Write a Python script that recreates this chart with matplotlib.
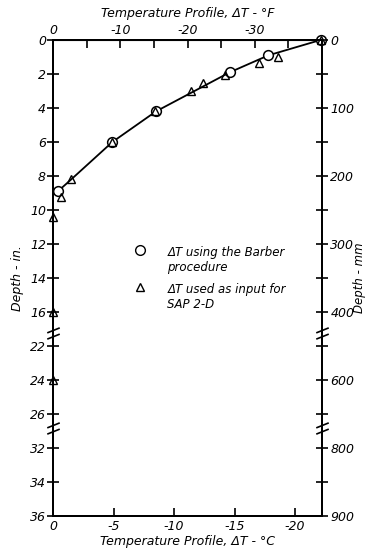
import numpy as np
import matplotlib.pyplot as plt
from matplotlib.lines import Line2D
from matplotlib.path import Path
import matplotlib.transforms as mtransforms

plt.rcParams['font.family'] = ['DejaVu Sans']
plt.rcParams['font.style'] = 'italic'
plt.rcParams['axes.unicode_minus'] = False

# readings: delta T in deg C, depth in inches
circ_dT = [-22.1, -17.8, -14.6, -8.5, -4.9, -0.4]
circ_depth = [0.0, 0.9, 1.9, 4.2, 6.0, 8.9]
tri_dT = [-22.1, -18.6, -17.0, -14.2, -12.4, -11.4, -8.4, -4.9, -1.5, -0.65, 0.0, 0.0, 0.0]
tri_depth = [0.0, 1.0, 1.35, 2.05, 2.5, 3.0, 4.2, 6.0, 8.2, 9.25, 10.4, 16.0, 24.0]
curve_dT = [-22.1, -17.8, -14.6, -8.5, -4.9, -1.5, -0.4]
curve_depth = [0.0, 0.9, 1.9, 4.2, 6.0, 8.2, 8.9]

left_ticks = [0, 2, 4, 6, 8, 10, 12, 14, 16, 22, 24, 26, 32, 34, 36]
right_labels = ['0', '', '100', '', '200', '', '300', '', '400', '', '600', '', '800', '', '900']
c_ticks = [0, -5, -10, -15, -20]
f_ticks = [0, -10, -20, -30, -40]
f_minor = [-5, -15, -25, -35]
breaks = [19.2, 28.8]

labels = ['\u0394T using the Barber\nprocedure', '\u0394T used as input for\nSAP 2-D']

# broken depth axis
D_KN = [-10, 17.1, 21.3, 26.7, 30.9, 60]
U_KN = [-10, 17.1, 17.3, 22.7, 22.9, 52]
fwd = lambda d: np.interp(d, D_KN, U_KN)
inv = lambda u: np.interp(u, U_KN, D_KN)

fig = plt.figure(figsize=(3.68, 5.48), dpi=100)
ax = fig.add_axes([0.144, 0.058, 0.731, 0.869])
ax.set_yscale('function', functions=(fwd, inv))
ax.set_xlim(0, -22.22)
ax.set_ylim(36, 0)

ax.plot(curve_dT, curve_depth, color='k', lw=1.3)
ax.plot(circ_dT, circ_depth, 'o', mfc='white', mec='k', ms=7, mew=1.1, clip_on=False)
ax.plot(tri_dT, tri_depth, '^', mfc='none', mec='k', ms=5.5, mew=1.0, clip_on=False)

ax.set_yticks(left_ticks)
ax.set_yticklabels([str(t) for t in left_ticks])
ax.set_xticks(c_ticks)
ax.set_xticklabels([str(t) for t in c_ticks])
ax.tick_params(axis='x', direction='in', length=6, width=1.2, labelsize=9, pad=3)
ax.tick_params(axis='y', direction='inout', length=8, width=1.2, labelsize=9, pad=1)
ax.set_xlabel('Temperature Profile, \u0394T - \u00b0C', fontsize=9, labelpad=1)
ax.set_ylabel('Depth - in.', fontsize=9, labelpad=4)

top = ax.secondary_xaxis('top', functions=(lambda c: c * 1.8, lambda f: f / 1.8))
top.set_xticks(f_ticks)
top.set_xticklabels([str(t) for t in f_ticks])
top.set_xticks(f_minor, minor=True)
top.tick_params(which='both', direction='in', length=6, width=1.2, labelsize=9, pad=2)
top.set_xlabel('Temperature Profile, \u0394T - \u00b0F', fontsize=9, labelpad=5)

ax2 = ax.twinx()
ax2.set_yscale('function', functions=(fwd, inv))
ax2.set_ylim(36, 0)
ax2.set_yticks(left_ticks)
ax2.set_yticklabels(right_labels)
ax2.tick_params(axis='y', direction='inout', length=8, width=1.2, labelsize=9, pad=2)
ax2.set_ylabel('Depth - mm', fontsize=8.5, labelpad=-1)

for a in (ax, ax2):
    for s in a.spines.values():
        s.set_linewidth(1.4)

# break marks on both spines
brk = Path([(-1, -0.9), (1, -0.1), (-1, 0.1), (1, 0.9)],
           [Path.MOVETO, Path.LINETO, Path.MOVETO, Path.LINETO])
tr = mtransforms.blended_transform_factory(ax.transAxes, ax.transData)
for b in breaks:
    ax.plot([0, 1], [b, b], transform=tr, marker=brk, ms=9, mew=1.2,
            color='k', ls='none', clip_on=False)

handles = [Line2D([], [], marker='o', mfc='none', mec='k', ls='none', ms=7),
           Line2D([], [], marker='^', mfc='none', mec='k', ls='none', ms=6)]
leg = ax.legend(handles, labels, loc='upper left', bbox_to_anchor=(0.25, 0.59),
                frameon=False, fontsize=8.5, handletextpad=1.6, labelspacing=0.8,
                handlelength=1.5)
# put each marker level with the first line of its label
for col in leg._legend_handle_box.get_children():
    for item in col.get_children():
        item.align = 'top'

fig.savefig('out.png', dpi=100)
